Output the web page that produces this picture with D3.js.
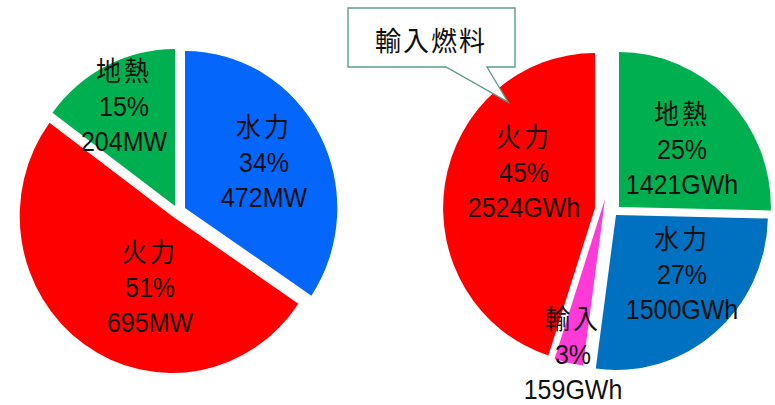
<html>
<head>
<meta charset="utf-8">
<script src="https://d3js.org/d3.v7.min.js"></script>
<style>
  body { margin: 0; background: #fff; }
  text { font-family: "Liberation Sans", "Noto Sans CJK JP", sans-serif; fill: #111; }
</style>
</head>
<body>
<svg id="chart" width="775" height="405"></svg>
<script>
// left pie: capacity (MW)
const leftNames = ["水力", "火力", "地熱"];
const leftValues = [472, 695, 204];
const leftUnit = "MW";

// right pie: generation (GWh)
const rightNames = ["地熱", "水力", "輸入", "火力"];
const rightValues = [1421, 1500, 159, 2524];
const rightUnit = "GWh";

const calloutText = "輸入燃料";

// look of each slice: colour, explode shift, label spot (relative to the pie centre)
const leftStyle = {
  "水力": { fill: "#0566fb", shift: [7, -2], label: [86, -47] },
  "火力": { fill: "#ff0000", shift: [-6, 6], label: [-28, 78] },
  "地熱": { fill: "#00b050", shift: [-3, -4], label: [-54, -103] }
};
const rightStyle = {
  "地熱": { fill: "#00b050", shift: [9, -1], label: [72, -58] },
  "水力": { fill: "#0070c0", shift: [6, 7], label: [72, 67] },
  "輸入": { fill: "#ff3ad6", shift: [-5, -9], label: [-37, 147], r: 168 },
  "火力": { fill: "#ff0000", shift: [-15, 0], label: [-86, -35] }
};

const svg = d3.select("svg#chart");
const pct = d3.format(".0%");
const lineGap = 35;
const textStretch = 1.07;

function drawPie(names, values, unit, style, cx, cy, r, sx) {
    const total = d3.sum(values);
    const data = names.map((n, i) => ({ name: n, value: values[i] }));
    const pie = d3.pie().sort(null).value(d => d.value);
    const arcs = pie(data);

    const g = svg.append("g").attr("transform", `translate(${cx},${cy})`);

    arcs.forEach(a => {
        const st = style[a.data.name];
        const arc = d3.arc().innerRadius(0).outerRadius(st.r || r);
        g.append("path")
            .attr("transform", `translate(${st.shift[0]},${st.shift[1]}) scale(${sx},1)`)
            .attr("d", arc(a))
            .style("fill", st.fill);
    });

    arcs.forEach(a => {
        const st = style[a.data.name];
        const lines = [a.data.name, pct(a.data.value / total), a.data.value + unit];
        lines.forEach((t, k) => {
            g.append("text")
                .attr("transform", `translate(${st.label[0]},${st.label[1] + (k - 1) * lineGap}) scale(1,${textStretch})`)
                .attr("text-anchor", "middle")
                .attr("dominant-baseline", "central")
                .style("font-size", "25px")
                .style("letter-spacing", k == 0 ? "3px" : "0px")
                .text(t);
        });
    });
}

drawPie(leftNames, leftValues, leftUnit, leftStyle, 178, 210, 157, 0.97);
drawPie(rightNames, rightValues, rightUnit, rightStyle, 610, 208, 155, 0.98);

// callout box pointing at the thermal slice
svg.append("path")
    .attr("d", "M348,8 H515 V67 H487 L508,102 L446,67 H348 Z")
    .style("fill", "#fff")
    .style("stroke", "#5a9e88")
    .style("stroke-width", 1.4);
svg.append("text")
    .attr("transform", `translate(431,42) scale(1,${textStretch})`)
    .attr("text-anchor", "middle")
    .attr("dominant-baseline", "central")
    .style("font-size", "26px")
    .style("letter-spacing", "2px")
    .text(calloutText);
</script>
</body>
</html>
